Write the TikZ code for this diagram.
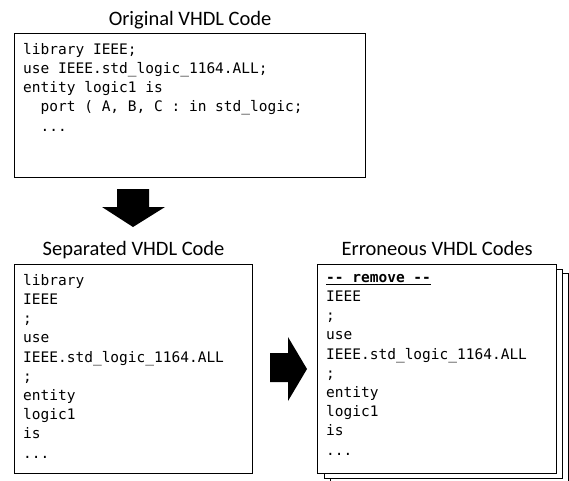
\documentclass[tikz,border=0pt]{standalone}
\usepackage{fontspec}
\setmainfont{Carlito}
\setmonofont{DejaVu Sans Mono}
\usepackage{tikz}
\usetikzlibrary{positioning}

\tikzset{
  codebox/.style 2 args={draw, line width=1.2pt, fill=white, anchor=north west,
    inner sep=0pt, minimum width=#1, minimum height=#2},
  codetext/.style={font=\ttfamily\fontsize{14.5}{19.2}\selectfont, align=left,
    inner sep=0pt, anchor=north west},
  title/.style={font=\fontsize{20.5}{24}\selectfont, inner sep=0pt, anchor=base}
}

\begin{document}
\begin{tikzpicture}[x=1pt, y=-1pt]
\useasboundingbox (0,0) rectangle (569,480);

% Original code
\node[codebox={351}{144}] (orig) at (14,33) {};
\node[title] (origtitle) at ([yshift=8pt]orig.north) {Original VHDL Code};
\node[codetext] (origcode) at ([shift={(9,10)}]orig.north west)
  {library IEEE;\\
   use IEEE.std\_logic\_1164.ALL;\\
   entity logic1 is\\
   \phantom{xx}port ( A, B, C : in std\_logic;\\
   \phantom{xx}...};

% Down arrow
\fill (117,189) -- (149,189) -- (149,207) -- (165,207) -- (133,227)
  -- (102,207) -- (117,207) -- cycle;

% Separated code
\node[codebox={238}{209}] (sep) at (14,264) {};
\node[title] (septitle) at ([yshift=8.5pt]sep.north) {Separated VHDL Code};
\node[codetext] (sepcode) at ([shift={(9,10)}]sep.north west)
  {library\\ IEEE\\ ;\\ use\\ IEEE.std\_logic\_1164.ALL\\ ;\\ entity\\ logic1\\ is\\ ...};

% Right arrow
\fill (270,353) -- (288,353) -- (288,337) -- (307,369) -- (288,401)
  -- (288,382) -- (270,382) -- cycle;

% Erroneous codes (stacked)
\node[codebox={238}{209}] (err3) at (330,273) {};
\node[codebox={238}{209}] (err2) at (323.5,268.5) {};
\node[codebox={239}{209}] (err) at (317,264) {};
\node[title] (errtitle) at ([yshift=8.5pt]err.north) {Erroneous VHDL Codes};
\node[codetext] (errcode) at ([shift={(9,10)}]err.north west)
  {\textbf{\underline{{-}{-} remove {-}{-}}}\\ IEEE\\ ;\\ use\\ IEEE.std\_logic\_1164.ALL\\ ;\\ entity\\ logic1\\ is\\ ...};
\end{tikzpicture}
\end{document}
